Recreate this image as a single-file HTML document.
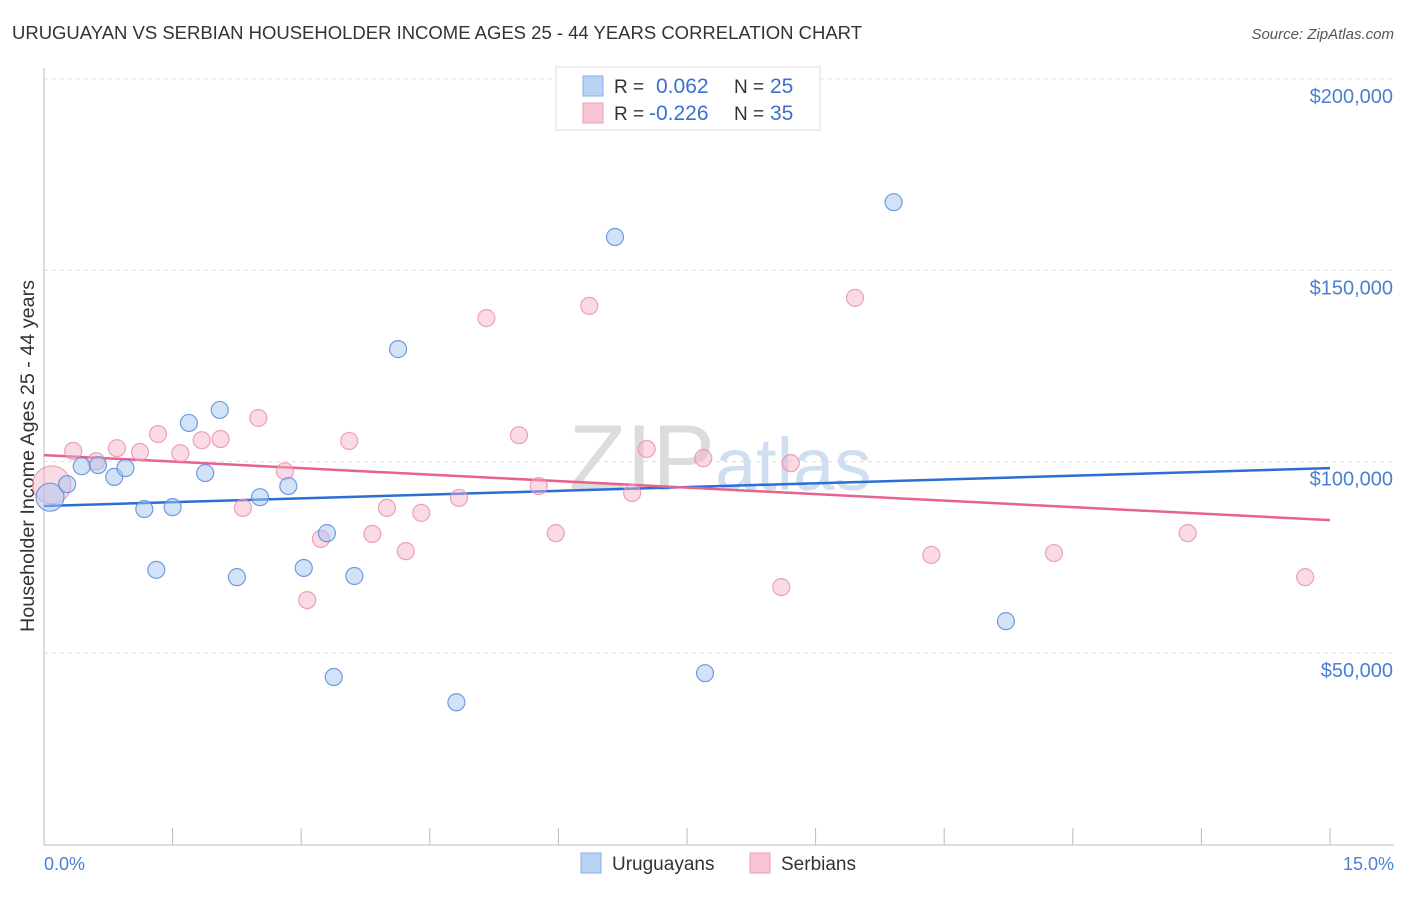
<!DOCTYPE html>
<html><head><meta charset="utf-8"><style>
body{margin:0;background:#fff;font-family:"Liberation Sans",sans-serif;}
svg text{font-family:"Liberation Sans",sans-serif;}
</style></head><body>
<svg id="chart" width="1406" height="892" xmlns="http://www.w3.org/2000/svg">
<text x="12" y="39" font-size="18" fill="#333" textLength="850" lengthAdjust="spacingAndGlyphs">URUGUAYAN VS SERBIAN HOUSEHOLDER INCOME AGES 25 - 44 YEARS CORRELATION CHART</text>
<text x="1394" y="39" font-size="15" fill="#555" text-anchor="end" font-style="italic">Source: ZipAtlas.com</text>
<text x="720" y="490" font-size="94" fill="#e4e4e4" text-anchor="middle" font-family="Liberation Serif"><tspan fill="#dcdcdc">ZIP</tspan><tspan fill="#d0def2" font-family="Liberation Sans" font-size="74">atlas</tspan></text>
<g id="grid"></g>
<line x1="44" y1="68" x2="44" y2="845" stroke="#bbb"/>
<line x1="44" y1="845" x2="1394" y2="845" stroke="#bbb"/>
<g id="ticks"></g>
<text x="44" y="870" font-size="18" fill="#4a7fd4">0.0%</text>
<text x="1394" y="870" font-size="18" fill="#4a7fd4" text-anchor="end">15.0%</text>
<text transform="translate(34,456) rotate(-90)" font-size="19" fill="#333" text-anchor="middle" textLength="352" lengthAdjust="spacingAndGlyphs">Householder Income Ages 25 - 44 years</text>
<g id="lines"></g>
<g id="points"></g>
<g>
<rect x="556" y="67" width="264" height="63" fill="#fff" stroke="#ddd"/>
<rect x="583" y="76" width="20" height="20" fill="#b9d2f4" stroke="#88aee6"/>
<rect x="583" y="103" width="20" height="20" fill="#f8c3d3" stroke="#eba1b9"/>
<text x="614" y="93" font-size="19" fill="#333">R =</text>
<text x="656" y="93" font-size="21" fill="#3a70d0">0.062</text>
<text x="734" y="93" font-size="19" fill="#333">N =</text>
<text x="770" y="93" font-size="21" fill="#3a70d0">25</text>
<text x="614" y="120" font-size="19" fill="#333">R =</text>
<text x="649" y="120" font-size="21" fill="#3a70d0">-0.226</text>
<text x="734" y="120" font-size="19" fill="#333">N =</text>
<text x="770" y="120" font-size="21" fill="#3a70d0">35</text>
</g>
<g>
<rect x="581" y="853" width="20" height="20" fill="#b9d2f4" stroke="#88aee6"/>
<text x="612" y="870" font-size="19" fill="#333">Uruguayans</text>
<rect x="750" y="853" width="20" height="20" fill="#f8c3d3" stroke="#eba1b9"/>
<text x="781" y="870" font-size="19" fill="#333">Serbians</text>
</g>
</svg>
<script>
const yTicks=[50000,100000,150000,200000];
const yTickLabels=["$50,000","$100,000","$150,000","$200,000"];
const xTicks=[0,1.5,3,4.5,6,7.5,9,10.5,12,13.5,15];
const uruX=[0.07,0.27,0.44,0.63,0.82,0.95,1.17,1.31,1.50,1.69,1.88,2.05,2.25,2.52,2.85,3.03,3.30,3.38,3.62,4.13,4.81,6.66,7.71,9.91,11.22];
const uruY=[90700,94100,98800,99100,96000,98300,87600,71700,88100,110100,97000,113500,69800,90700,93600,72200,81300,43700,70100,129400,37100,158700,44700,167800,58300];
const serX=[0.09,0.34,0.61,0.85,1.12,1.33,1.59,1.84,2.06,2.32,2.50,2.81,3.07,3.23,3.56,3.83,4.00,4.22,4.40,4.84,5.16,5.54,5.77,5.97,6.36,6.86,7.03,7.69,8.60,8.71,9.46,10.35,11.78,13.34,14.71];
const serY=[93900,102800,100100,103500,102500,107200,102200,105600,105900,87900,111400,97500,63800,79800,105400,81100,87900,76600,86600,90500,137500,106900,93600,81300,140700,91800,103300,100900,67200,99600,142800,75600,76100,81300,69800];
const uruTrend=[88400,98300];
const serTrend=[101700,84700];
const NS="http://www.w3.org/2000/svg";
function xs(v){return 44+v/15*1286;}
function ys(v){return 79+(200000-v)/50000*191.3;}
function mk(tag,attrs,parent){const e=document.createElementNS(NS,tag);for(const k in attrs)e.setAttribute(k,attrs[k]);document.getElementById(parent).appendChild(e);return e;}
yTicks.forEach((t,i)=>{
 const l=mk('line',{x1:44,x2:1394,y1:ys(t),y2:ys(t),stroke:'#ddd','stroke-dasharray':'4,4'},'grid');
 
 
 const tx=mk('text',{x:1393,y:ys(t)+24,'font-size':20,fill:'#4a7fd4','text-anchor':'end'},'grid');
 tx.textContent=yTickLabels[i];
 
 
});
xTicks.forEach(t=>{
 const l=mk('line',{x1:xs(t),x2:xs(t),y1:828,y2:845,stroke:'#bbb'},'ticks');
 
 
});
const bl=mk('line',{x1:xs(0),x2:xs(15),y1:ys(uruTrend[0]),y2:ys(uruTrend[1]),stroke:'#2a6fd6','stroke-width':2.5},'lines');


const pl=mk('line',{x1:xs(0),x2:xs(15),y1:ys(serTrend[0]),y2:ys(serTrend[1]),stroke:'#e8628f','stroke-width':2.5},'lines');


serX.forEach((x,i)=>{
 const c=mk('circle',{cx:xs(x),cy:ys(serY[i]),r:i==0?19:8.5,fill:'rgba(245,175,198,0.45)',stroke:'rgba(232,140,170,0.8)','stroke-width':1.2},'points');
 
 
});
uruX.forEach((x,i)=>{
 const c=mk('circle',{cx:xs(x),cy:ys(uruY[i]),r:i==0?14:8.5,fill:'rgba(165,198,240,0.5)',stroke:'rgba(90,140,220,0.85)','stroke-width':1.2},'points');
 
 
});
</script>
</body></html>
